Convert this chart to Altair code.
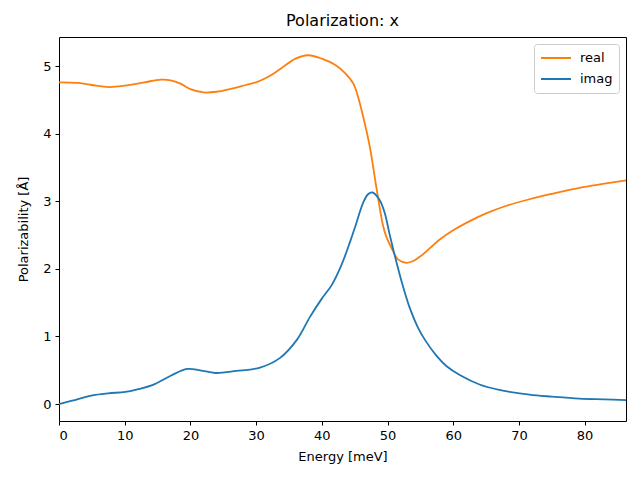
import altair as alt
import pandas as pd

real_x = [0, 3, 5, 7.6, 10, 13, 15.5, 17, 18.5, 20, 22, 24, 26, 28.4, 30, 32, 34, 36, 37.9, 40, 42, 43.5, 44.8, 45.5, 46.3, 47.3, 48.3, 49.3, 49.8, 50.8, 51.6, 52.9, 54.0, 55.2, 56.5, 57.9, 60, 62, 65, 68, 71.6, 75, 79.2, 83, 86.3]
real_y = [4.76, 4.75, 4.72, 4.69, 4.71, 4.76, 4.80, 4.79, 4.74, 4.66, 4.61, 4.62, 4.66, 4.72, 4.76, 4.85, 4.98, 5.11, 5.16, 5.11, 5.02, 4.90, 4.74, 4.55, 4.25, 3.81, 3.21, 2.65, 2.48, 2.27, 2.14, 2.09, 2.12, 2.20, 2.31, 2.43, 2.57, 2.68, 2.82, 2.93, 3.03, 3.11, 3.20, 3.26, 3.31]

imag_x = [0, 2, 5.1, 7.5, 10.1, 12, 14.2, 17, 19.5, 21.5, 23.8, 27, 30.6, 33.6, 36.2, 38.2, 40, 41.5, 43, 44.3, 45.0, 46.3, 47.0, 47.7, 48.8, 49.6, 50.3, 51.1, 52.1, 53.4, 54.6, 55.7, 57.5, 59, 61, 64, 67, 71.6, 75, 79.2, 83, 86.3]
imag_y = [0.0, 0.05, 0.13, 0.16, 0.18, 0.22, 0.28, 0.42, 0.52, 0.50, 0.46, 0.49, 0.54, 0.68, 0.95, 1.29, 1.56, 1.76, 2.06, 2.40, 2.60, 2.98, 3.10, 3.13, 3.02, 2.82, 2.52, 2.20, 1.83, 1.42, 1.14, 0.95, 0.71, 0.56, 0.43, 0.29, 0.21, 0.14, 0.11, 0.08, 0.07, 0.06]

series = ["real", "imag"]
colors = ["#ff7f0e", "#1f77b4"]

df = pd.concat([
    pd.DataFrame({"energy": real_x, "value": real_y, "series": "real", "order": 0}),
    pd.DataFrame({"energy": imag_x, "value": imag_y, "series": "imag", "order": 1}),
])

FONT = "DejaVu Sans"

chart = alt.Chart(df).mark_line(strokeWidth=1.8, interpolate="catmull-rom").encode(
    x=alt.X("energy:Q", scale=alt.Scale(domain=[0, 86.3], nice=False, zero=False),
            axis=alt.Axis(title="Energy [meV]", values=[0, 10, 20, 30, 40, 50, 60, 70, 80], format="d",
                          titlePadding=8)),
    y=alt.Y("value:Q", scale=alt.Scale(domain=[-0.25, 5.43], nice=False, zero=False),
            axis=alt.Axis(title="Polarizability [Å]", values=[0, 1, 2, 3, 4, 5], format="d",
                          titlePadding=12)),
    color=alt.Color("series:N", scale=alt.Scale(domain=series, range=colors),
                    legend=alt.Legend(title=None, orient="top-right", offset=7,
                                      symbolType="stroke", symbolStrokeWidth=1.8, symbolSize=900,
                                      labelFontSize=13, labelFont=FONT, fillColor="white",
                                      strokeColor="#cccccc", cornerRadius=3, padding=6,
                                      rowPadding=5, labelOffset=8, clipHeight=16)),
    detail="series:N",
    order="order:Q",
).properties(
    width=567, height=384,
    title=alt.Title("Polarization: x", font=FONT, fontSize=16, fontWeight="normal", offset=8),
    padding={"left": 51, "top": 29, "right": 6, "bottom": 51},
    autosize=alt.AutoSizeParams(type="none"),
).configure_view(
    stroke="black", strokeWidth=1
).configure_axis(
    grid=False, domain=False, tickColor="black", tickSize=4, tickWidth=1,
    labelFont=FONT, labelFontSize=13, labelColor="black", labelPadding=4,
    titleFont=FONT, titleFontSize=13, titleFontWeight="normal", titleColor="black"
)

chart.save("out.html", embed_options={"renderer": "svg", "actions": False})
